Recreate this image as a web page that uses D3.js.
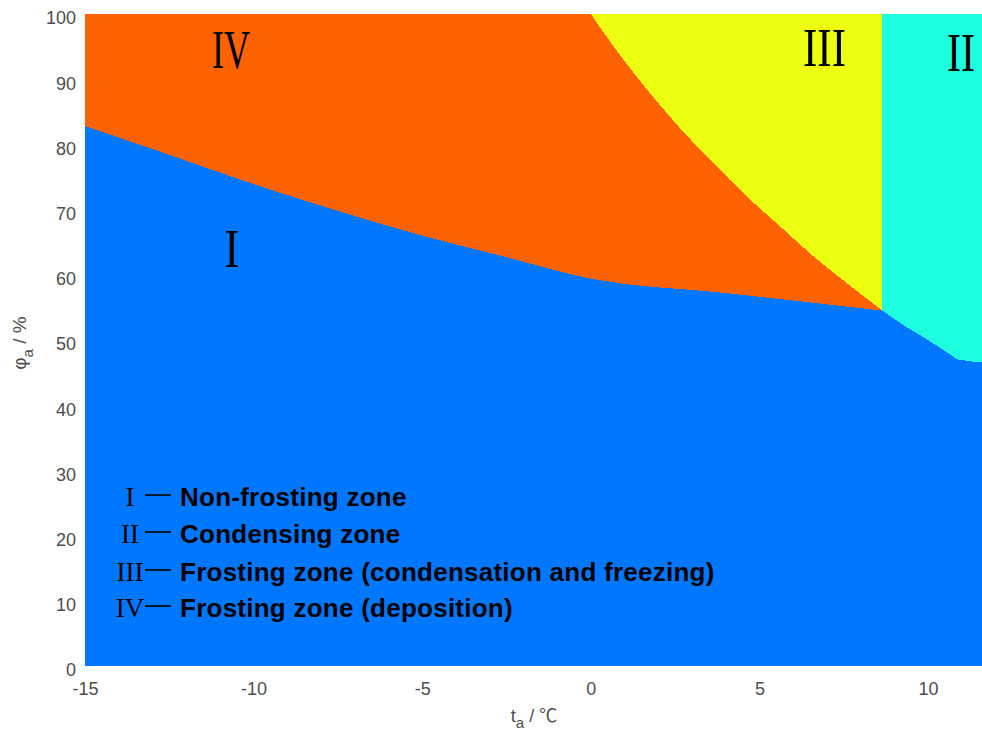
<!DOCTYPE html>
<html>
<head>
<meta charset="utf-8">
<script src="https://cdn.jsdelivr.net/npm/d3@7"></script>
<style>
  body { margin: 0; background: #fff; }
  svg { display: block; }
</style>
</head>
<body>
<svg id="chart" width="982" height="731"></svg>
<script>
// Frosting boundary between zone I and zone IV (t in °C, φ in %)
const frostLineT   = [-15, -12.5, -10, -7.5, -5, -2.5, 0, 4, 8.65];
const frostLinePhi = [82.8, 78.4, 73.9, 69.8, 66.0, 62.7, 59.4, 57.2, 54.5];

// Boundary between zone IV (deposition) and zone III (condensation + freezing)
const freezeLineT   = [0, 0.68, 1.67, 2.66, 3.64, 4.63, 5.62, 6.61, 7.60, 8.65];
const freezeLinePhi = [100, 95.0, 88.4, 82.4, 77.1, 72.0, 67.4, 62.8, 58.7, 54.5];

// Condensing boundary between zone I and zone II
const dewLineT   = [8.65, 9.3, 10.0, 10.6, 10.9, 11.6];
const dewLinePhi = [54.5, 52.2, 50.0, 48.0, 47.0, 46.6];

// Axes
const tDomain  = [-15, 11.6];
const phiDomain = [0, 100];
const tTicks   = [-15, -10, -5, 0, 5, 10];
const phiTicks = [0, 10, 20, 30, 40, 50, 60, 70, 80, 90, 100];

// Zones
const zoneNames = ["I", "II", "III", "IV"];
const zoneDescriptions = [
  "Non-frosting zone",
  "Condensing zone",
  "Frosting zone (condensation and freezing)",
  "Frosting zone (deposition)"
];
const zoneColors = ["#0077ff", "#1effe0", "#edff10", "#ff6200"];

// ---- layout ----
const svg = d3.select("#chart");
const plot = { left: 85, right: 982, top: 14, bottom: 666 };
const pxPerDeg = (928 - 85) / 25;

const x = d3.scaleLinear().domain(tDomain)
  .range([plot.left, plot.left + (tDomain[1] - tDomain[0]) * pxPerDeg]);
const y = d3.scaleLinear().domain(phiDomain).range([plot.bottom, plot.top]);

const pts = (ts, ps) => ts.map((t, i) => ({ t, p: ps[i] }));
const frost  = pts(frostLineT, frostLinePhi);
const freeze = pts(freezeLineT, freezeLinePhi);
const dew    = pts(dewLineT, dewLinePhi);
const pMax = phiDomain[1], pMin = phiDomain[0];
const curve = d3.curveMonotoneX;

const g = svg.append("g").attr("shape-rendering", "crispEdges");

// Zone I: below the frosting line and the condensing boundary
[frost, dew].forEach(seg => {
  g.append("path").datum(seg)
    .attr("fill", zoneColors[0])
    .attr("d", d3.area().curve(curve).x(d => x(d.t)).y0(y(pMin)).y1(d => y(d.p)));
});

// Zone IV: above the frosting line
g.append("path").datum(frost)
  .attr("fill", zoneColors[3])
  .attr("d", d3.area().curve(curve).x(d => x(d.t)).y0(d => y(d.p)).y1(y(pMax)));

// Zone III: above the freezing curve
g.append("path").datum(freeze)
  .attr("fill", zoneColors[2])
  .attr("d", d3.area().curve(curve).x(d => x(d.t)).y0(d => y(d.p)).y1(y(pMax)));

// Zone II: above the condensing boundary
g.append("path").datum(dew)
  .attr("fill", zoneColors[1])
  .attr("d", d3.area().curve(curve).x(d => x(d.t)).y0(d => y(d.p)).y1(y(pMax)));

// ---- axes ----
const tickColor = "#4d4d4d";
const sans = "'Liberation Sans', Arial, sans-serif";
const xAxis = svg.append("g")
  .attr("transform", `translate(0,${plot.bottom})`)
  .call(d3.axisBottom(x).tickValues(tTicks).tickSize(0).tickPadding(16));
const yAxis = svg.append("g")
  .attr("transform", `translate(${plot.left},0)`)
  .call(d3.axisLeft(y).tickValues(phiTicks).tickSize(0).tickPadding(9));
[xAxis, yAxis].forEach(a => {
  a.select(".domain").remove();
  a.selectAll("text")
    .attr("fill", tickColor)
    .style("font-family", sans)
    .style("font-size", "18px");
});
yAxis.selectAll("text").attr("dy", "0.55em");
xAxis.selectAll("text").text(d => d < 0 ? "-" + Math.abs(d) : d);

// Axis titles
const xTitle = svg.append("text")
  .attr("x", 534).attr("y", 722)
  .attr("text-anchor", "middle")
  .attr("fill", tickColor)
  .style("font-family", sans)
  .style("font-size", "18px");
xTitle.append("tspan").text("t");
xTitle.append("tspan").attr("dy", 6).style("font-size", "15px").text("a");
xTitle.append("tspan").attr("dy", -6).text(" / ");
xTitle.append("tspan").style("font-family", "'Noto Sans CJK SC', sans-serif").text("℃");

const yTitle = svg.append("text")
  .attr("transform", "translate(26,343) rotate(-90)")
  .attr("text-anchor", "middle")
  .attr("fill", tickColor)
  .style("font-family", sans)
  .style("font-size", "19px");
yTitle.append("tspan").text("φ");
yTitle.append("tspan").attr("dy", 7).style("font-size", "15px").text("a");
yTitle.append("tspan").attr("dy", -7).text(" / %");

// ---- zone numerals inside the plot ----
const serif = "'Liberation Serif', 'Times New Roman', serif";
const numeralAnchors = [
  { t: -10.65, p: 61.2, w: 15 },   // I
  { t: 10.98,  p: 91.3, w: 28 },   // II
  { t: 6.93,   p: 92.0, w: 43 },   // III
  { t: -10.67, p: 91.7, w: 38 }    // IV
];
svg.append("g").selectAll("text")
  .data(zoneNames)
  .join("text")
  .attr("x", (d, i) => x(numeralAnchors[i].t) - numeralAnchors[i].w / 2)
  .attr("y", (d, i) => y(numeralAnchors[i].p))
  .attr("textLength", (d, i) => numeralAnchors[i].w)
  .attr("lengthAdjust", "spacingAndGlyphs")
  .attr("fill", "#000")
  .style("font-family", serif)
  .style("font-size", "54px")
  .text(d => d);

// ---- legend ----
const legendBaselines = [506, 543, 581, 617];
const legend = svg.append("g");
zoneNames.forEach((name, i) => {
  const by = legendBaselines[i];
  legend.append("text")
    .attr("x", 130).attr("y", by)
    .attr("text-anchor", "middle")
    .attr("fill", "#000")
    .style("font-family", serif)
    .style("font-size", "27px")
    .text(name);
  legend.append("line")
    .attr("x1", 145).attr("x2", 171)
    .attr("y1", by - 11).attr("y2", by - 11)
    .attr("stroke", "#000").attr("stroke-width", 1.6);
  legend.append("text")
    .attr("x", 180).attr("y", by)
    .attr("fill", "#000")
    .style("font-family", sans)
    .style("font-weight", "bold")
    .style("font-size", "26px")
    .style("letter-spacing", "0.25px")
    .text(zoneDescriptions[i]);
});
</script>
</body>
</html>
